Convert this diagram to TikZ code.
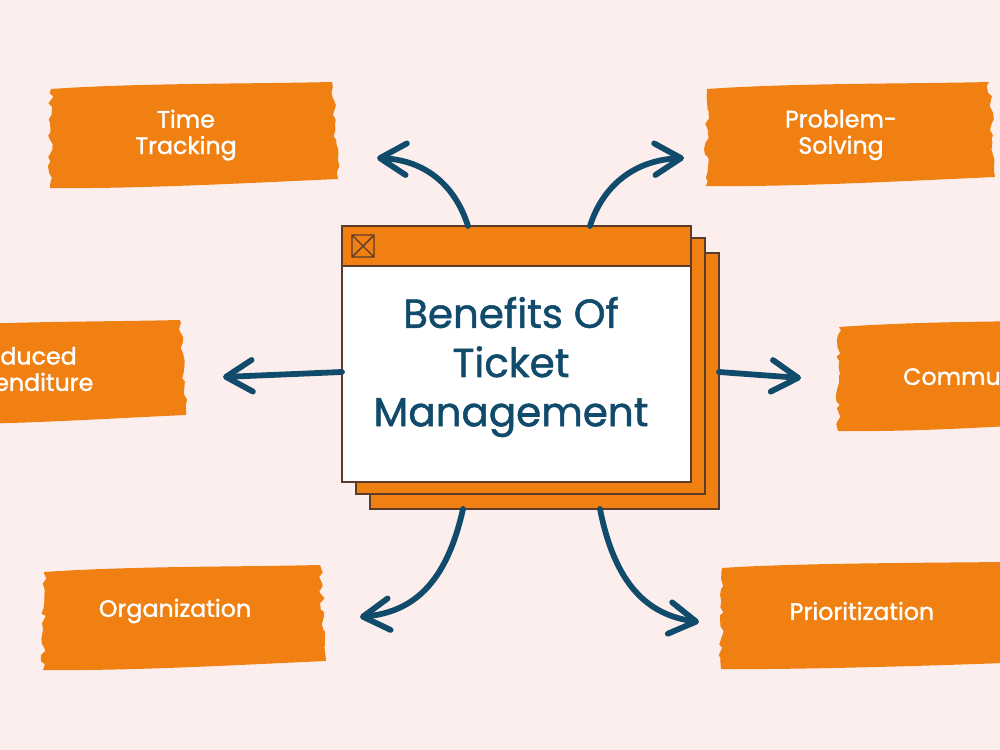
\documentclass[tikz,border=0pt]{standalone}
\usepackage{fontspec}
\setmainfont{Poppins}
\newfontfamily\thickfont{Poppins}[FakeBold=1.3]
\usetikzlibrary{arrows.meta,decorations.pathmorphing}

%colores
\definecolor{bgpink}{HTML}{FCEEEC}
\definecolor{borange}{HTML}{F08012}
\definecolor{inknavy}{HTML}{114B6B}
\definecolor{wframe}{HTML}{5B3B2A}

% mancha de pincel: x1 y1 x2 y2
\newcommand{\brush}[4]{%
  \fill[borange] (#1+4,#2+7) .. controls (#1+90,#2+1) and (#3-90,#2+2) .. (#3-6,#2)
    decorate[rough]{-- (#3,#4-9)}
    .. controls (#3-90,#4-5) and (#1+90,#4+1) .. (#1+3,#4)
    decorate[rough]{-- (#1+4,#2+7)} -- cycle;}

\begin{document}
\begin{tikzpicture}[x=0.02cm,y=-0.02cm,
    rough/.style={decoration={random steps,segment length=3pt,amplitude=1.4pt}},
    arr/.style={inknavy,line width=3.3pt,line cap=round,
      -{Straight Barb[length=15pt,width=18pt,round]}},
    blabel/.style={white,align=center,font=\thickfont\fontsize{13.5}{15}\selectfont},
    sheet/.style={fill=borange,draw=wframe,line width=0.6pt}]
    \pgfmathsetseed{7}
    % fondo
    \useasboundingbox (0,0) rectangle (1000,750);
    \fill[bgpink] (0,0) rectangle (1000,750);
    \clip (0,0) rectangle (1000,750);

    % manchas
    \brush{47}{82}{338}{188}
    \brush{703}{82}{995}{186}
    \brush{-80}{320}{186}{424}
    \brush{835}{320}{1090}{431}
    \brush{40}{565}{326}{670}
    \brush{718}{561}{1080}{669}

    % textos
    \node[blabel] (time) at (186,135) {Time\\Tracking};
    \node[blabel] (problem) at (841,135) {Problem-\\Solving};
    \node[blabel] (reduced) at (24,372) {Reduced\\Expenditure};
    \node[blabel,anchor=west] (comm) at (897,376) {Communication};
    \node[blabel] (organ) at (175,611) {Organization};
    \node[blabel] (prior) at (862,611) {Prioritization};

    % ventanas
    \draw[sheet] (370,253) rectangle (719,509);
    \draw[sheet] (356,238) rectangle (705,494);
    \draw[wframe,line width=0.6pt,fill=white] (342,226) rectangle (691,482);
    \draw[sheet] (342,226) rectangle (691,266);
    \draw[wframe,line width=0.8pt] (352,235) rectangle (374,257) (352,235) -- (374,257) (352,257) -- (374,235);
    \node[inknavy,align=center,font=\thickfont\fontsize{23}{28}\selectfont] (title) at (511,367)
      {Benefits Of\\Ticket\\Management};

    % flechas
    \coordinate (tl-s) at (468,226);  \coordinate (tl-e) at (377,158);
    \coordinate (tr-s) at (590,226);  \coordinate (tr-e) at (684,158);
    \coordinate (ml-s) at (342,372);  \coordinate (ml-e) at (223,377);
    \coordinate (mr-s) at (719,372);  \coordinate (mr-e) at (801,378);
    \coordinate (bl-s) at (463,509);  \coordinate (bl-e) at (360,617);
    \coordinate (br-s) at (600,509);  \coordinate (br-e) at (699,622);
    \draw[arr] (tl-s) .. controls (455,185) and (425,160) .. (tl-e);
    \draw[arr] (tr-s) .. controls (603,185) and (635,160) .. (tr-e);
    \draw[arr] (ml-s) -- (ml-e);
    \draw[arr] (mr-s) -- (mr-e);
    \draw[arr] (bl-s) .. controls (446,585) and (412,612) .. (bl-e);
    \draw[arr] (br-s) .. controls (615,585) and (648,615) .. (br-e);
\end{tikzpicture}
\end{document}
